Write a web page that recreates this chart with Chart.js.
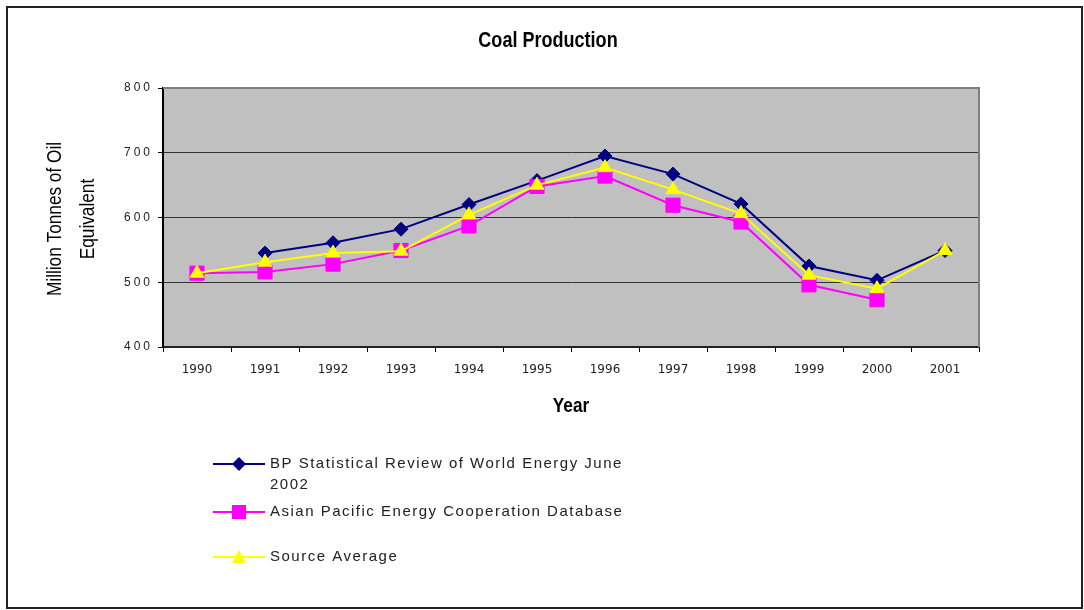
<!DOCTYPE html>
<html>
<head>
<meta charset="utf-8">
<script src="https://cdn.jsdelivr.net/npm/chart.js@4.4.0/dist/chart.umd.min.js"></script>
<style>
  html, body { margin: 0; padding: 0; background: #fff; }
  #wrap { width: 1084px; height: 610px; }
</style>
</head>
<body>
<div id="wrap"><canvas id="chart" width="1084" height="610"></canvas></div>
<script>
// Data
const years = ['1990', '1991', '1992', '1993', '1994', '1995', '1996', '1997', '1998', '1999', '2000', '2001'];
const bpReview = [null, 545, 561, 582, 620, 657, 695, 667, 621, 525, 503, 549];
const apecDatabase = [514, 516, 528, 549, 587, 648, 664, 619, 593, 496, 473, null];
const sourceAverage = [514, 531, 545, 548, 604, 650, 677, 643, 606, 511, 490, 549];
const yTickValues = [400, 500, 600, 700, 800];
const seriesNames = [
  ['BP Statistical Review of World Energy June', '2002'],
  ['Asian Pacific Energy Cooperation Database'],
  ['Source Average']
];

const NAVY = '#000080';
const MAGENTA = '#FF00FF';
const YELLOW = '#FFFF00';

// narrow-looking text (the original uses Arial Narrow)
function narrowText(ctx, text, x, y, squeeze) {
  ctx.save();
  ctx.translate(x, y);
  ctx.scale(squeeze, 1);
  ctx.fillText(text, 0, 0);
  ctx.restore();
}

function marker(ctx, style, x, y, color) {
  ctx.save();
  ctx.fillStyle = color;
  ctx.beginPath();
  if (style === 'diamond') {
    ctx.moveTo(x, y - 7); ctx.lineTo(x + 7, y); ctx.lineTo(x, y + 7); ctx.lineTo(x - 7, y);
  } else if (style === 'square') {
    ctx.rect(x - 7, y - 7, 14, 14);
  } else {
    ctx.moveTo(x, y - 7); ctx.lineTo(x + 7, y + 6); ctx.lineTo(x - 7, y + 6);
  }
  ctx.closePath();
  ctx.fill();
  ctx.restore();
}

const framePlugin = {
  id: 'frame',
  afterLayout(chart) {
    // y tick labels in the original are widely letter-spaced
    const ys = chart.scales.y;
    if (!ys._spaced) {
      const orig = ys.drawLabels;
      ys.drawLabels = function (area) {
        this.ctx.save();
        this.ctx.letterSpacing = '3px';
        orig.call(this, area);
        this.ctx.restore();
      };
      ys._spaced = true;
    }
  },
  beforeDraw(chart) {
    const { ctx, chartArea: a } = chart;
    ctx.save();
    ctx.fillStyle = '#ffffff';
    ctx.fillRect(0, 0, chart.width, chart.height);
    ctx.fillStyle = '#C0C0C0';
    ctx.fillRect(a.left, a.top, a.right - a.left, a.bottom - a.top);
    ctx.restore();
  },
  beforeDatasetsDraw(chart) {
    const { ctx, chartArea: a } = chart;
    ctx.save();
    ctx.strokeStyle = '#808080';
    ctx.lineWidth = 2;
    ctx.beginPath();
    ctx.moveTo(a.left, a.top);
    ctx.lineTo(a.right, a.top);
    ctx.lineTo(a.right, a.bottom);
    ctx.stroke();
    ctx.restore();
  },
  afterDraw(chart) {
    const { ctx, chartArea: a } = chart;
    ctx.save();
    ctx.fillStyle = '#000';
    ctx.textAlign = 'center';
    ctx.textBaseline = 'middle';

    // chart title
    ctx.font = 'bold 22px "Liberation Sans", Arial, sans-serif';
    narrowText(ctx, 'Coal Production', (a.left + a.right) / 2 - 23, 41, 0.82);

    // x axis title
    ctx.font = 'bold 21px "Liberation Sans", Arial, sans-serif';
    narrowText(ctx, 'Year', 571, 406, 0.82);

    // y axis title, two lines
    ctx.font = '21px "Liberation Sans", Arial, sans-serif';
    const yTitle = ['Million Tonnes of Oil', 'Equivalent'];
    yTitle.forEach((line, i) => {
      ctx.save();
      ctx.translate(55 + i * 33, 219);
      ctx.rotate(-Math.PI / 2);
      ctx.scale(0.82, 1);
      ctx.fillText(line, 0, 0);
      ctx.restore();
    });

    // legend
    const rows = [464, 512, 557];
    const styles = ['diamond', 'square', 'triangle'];
    const colors = [NAVY, MAGENTA, YELLOW];
    ctx.textAlign = 'left';
    ctx.font = '15px "Liberation Sans", Arial, sans-serif';
    ctx.letterSpacing = '1.5px';
    rows.forEach((y, i) => {
      ctx.strokeStyle = colors[i];
      ctx.lineWidth = 2;
      ctx.beginPath();
      ctx.moveTo(213, y);
      ctx.lineTo(265, y);
      ctx.stroke();
      marker(ctx, styles[i], 239, y, colors[i]);
      ctx.fillStyle = '#222';
      seriesNames[i].forEach((t, j) => ctx.fillText(t, 270, y + j * 21));
    });
    ctx.letterSpacing = '0px';

    // outer frame
    ctx.strokeStyle = '#222';
    ctx.lineWidth = 2;
    ctx.strokeRect(7, 7, 1075, 601);
    ctx.restore();
  }
};

new Chart(document.getElementById('chart'), {
  type: 'line',
  data: {
    labels: years,
    datasets: [
      {
        label: seriesNames[0].join(' '),
        data: bpReview,
        borderColor: NAVY,
        backgroundColor: NAVY,
        borderWidth: 2,
        pointStyle: 'rectRot',
        pointRadius: 7,
        pointBorderWidth: 1,
        order: 3
      },
      {
        label: seriesNames[1].join(' '),
        data: apecDatabase,
        borderColor: MAGENTA,
        backgroundColor: MAGENTA,
        borderWidth: 2,
        pointStyle: 'rect',
        pointRadius: 10,
        pointBorderWidth: 1,
        order: 2
      },
      {
        label: seriesNames[2].join(' '),
        data: sourceAverage,
        borderColor: YELLOW,
        backgroundColor: YELLOW,
        borderWidth: 2,
        pointStyle: 'triangle',
        pointRadius: 8,
        pointBorderWidth: 1,
        order: 1
      }
    ]
  },
  options: {
    responsive: false,
    animation: false,
    events: [],
    layout: { padding: { top: 88, right: 105, bottom: 0, left: 0 } },
    plugins: {
      legend: { display: false },
      title: { display: false },
      tooltip: { enabled: false }
    },
    scales: {
      x: {
        offset: true,
        grid: {
          offset: true,
          drawOnChartArea: false,
          drawTicks: true,
          tickLength: 5,
          tickColor: '#000',
          tickWidth: 1
        },
        border: { color: '#222', width: 2 },
        ticks: {
          color: '#222',
          padding: 11,
          maxRotation: 0,
          font: { family: '"DejaVu Sans", sans-serif', size: 12 }
        },
        afterFit(scale) {
          scale.height = 263;
          scale.paddingLeft = 0;
          scale.paddingRight = 0;
        }
      },
      y: {
        min: 400,
        max: 800,
        afterBuildTicks(scale) {
          scale.ticks = yTickValues.map(v => ({ value: v }));
        },
        grid: {
          color: '#333',
          lineWidth: 1,
          drawTicks: true,
          tickLength: 5,
          tickColor: '#000'
        },
        border: { color: '#000', width: 2 },
        ticks: {
          color: '#222',
          padding: 5,
          font: { family: '"Liberation Sans", Arial, sans-serif', size: 12 }
        },
        afterFit(scale) {
          scale.width = 163;
          scale.paddingTop = 0;
          scale.paddingBottom = 0;
        }
      }
    }
  },
  plugins: [framePlugin]
});
</script>
</body>
</html>
